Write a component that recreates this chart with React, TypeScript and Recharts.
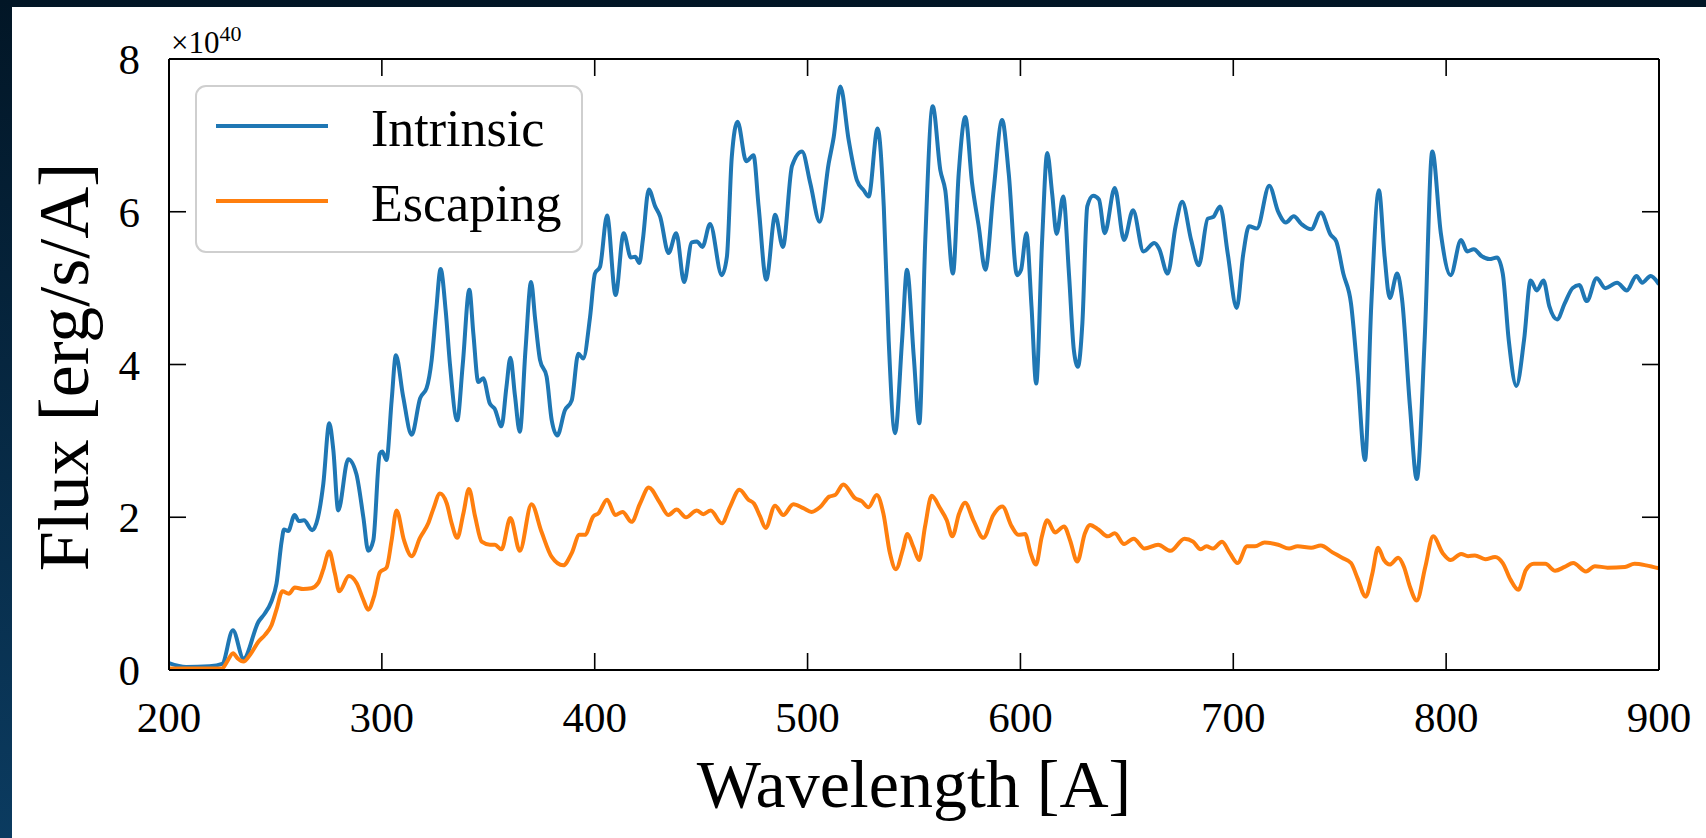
import React from "react";
import { LineChart, Line, XAxis, YAxis, Legend } from "recharts";

// wavelengths [A] and flux [1e40 erg/s/A]
const INTRINSIC_WL = [
  200, 208, 219, 225, 230, 235, 242, 245, 248, 250.5, 253, 254, 256, 259, 261, 263.4, 267.3, 270, 272.5, 275.3,
  277.2, 279.5, 284.2, 288, 291.3, 293.6, 296, 299, 300.2, 302.2, 304.6, 306.6, 310, 314, 318, 321, 323.4, 325.5,
  327.6, 330, 332, 335.4, 338, 341.1, 343, 345.3, 347.6, 350.7, 353, 356.2, 358.5, 360.4, 362.5, 364.8, 367.5,
  370.1, 372, 374.3, 377.4, 379.8, 382.4, 386, 389.2, 392.3, 394.6, 397.8, 400.1, 402.5, 405.8, 409.8, 413.6, 417,
  419, 421, 422.6, 425.4, 428.4, 430.7, 434.7, 438.3, 442, 445.6, 448, 450.6, 454.2, 459.7, 462.1, 464.4, 467.1,
  471.2, 474.6, 477, 480.6, 484.8, 488.4, 492.7, 497.4, 501.3, 505.7, 509.9, 512.3, 515.4, 519.3, 523.2, 526.4,
  528.7, 532.9, 535.8, 538.1, 541.1, 544.4, 546.7, 549.9, 552.5, 555.3, 558.8, 562.4, 564.7, 568.3, 571, 574.1,
  577.3, 580.4, 583.5, 587.4, 591.4, 594.5, 598.4, 600.3, 602.8, 605.2, 607.4, 610.2, 612.6, 614.9, 617, 620.1,
  622.8, 625.1, 627, 629.1, 631.4, 634.2, 636.9, 639.6, 644.3, 648.7, 652.9, 657.8, 662.9, 665.1, 669.2, 672.9,
  676, 680.2, 683.8, 688, 690.5, 693.8, 697.4, 701.6, 704.7, 707.4, 711.1, 716.9, 721.1, 724.7, 728.4, 732, 736.6,
  741.1, 745.7, 748.4, 751.7, 755.3, 758.4, 761.9, 764.8, 768.4, 771.1, 773.5, 777, 779.3, 783, 786.2, 789.9,
  793.5, 797.5, 802.1, 807, 809.9, 813, 816.6, 820.3, 823.9, 826.6, 829.4, 833, 836.6, 839.7, 842.6, 845.7, 848.5,
  852.1, 855.7, 859.4, 862.5, 866.1, 870.7, 874.8, 880.3, 884.9, 889.4, 892.1, 896.1, 900,
];
const INTRINSIC_FLUX = [
  0.09, 0.04, 0.05, 0.08, 0.52, 0.15, 0.63, 0.74, 0.89, 1.13, 1.7, 1.84, 1.82, 2.03, 1.95, 1.96, 1.83, 2.0, 2.44, 3.23,
  2.88, 2.09, 2.76, 2.57, 2.0, 1.56, 1.7, 2.83, 2.86, 2.75, 3.53, 4.12, 3.58, 3.08, 3.56, 3.69, 4.06, 4.7,
  5.25, 4.7, 4.0, 3.27, 4.0, 4.98, 4.4, 3.77, 3.82, 3.49, 3.42, 3.19, 3.7, 4.09, 3.6, 3.12, 4.2,
  5.08, 4.6, 4.06, 3.84, 3.27, 3.07, 3.4, 3.53, 4.14, 4.08, 4.62, 5.19, 5.28, 5.95, 4.91, 5.72, 5.4,
  5.41, 5.33, 5.63, 6.29, 6.07, 5.94, 5.46, 5.72, 5.08, 5.6, 5.61, 5.54, 5.84, 5.17, 5.41, 6.72, 7.18,
  6.66, 6.74, 6.07, 5.11, 5.96, 5.54, 6.6, 6.79, 6.37, 5.87, 6.63, 6.98, 7.64, 6.94, 6.41, 6.28,
  6.2, 7.09, 6.07, 4.32, 3.1, 4.32, 5.24, 4.1, 3.23, 5.63, 7.38, 6.54, 6.28, 5.19, 6.5, 7.24,
  6.37, 5.81, 5.24, 6.28, 7.2, 6.5, 5.17, 5.24, 5.72, 4.76, 3.75, 5.63, 6.77, 6.24, 5.71, 6.2,
  5.19, 4.19, 3.97, 4.54, 6.07, 6.21, 6.16, 5.72, 6.31, 5.63, 6.02, 5.48, 5.59, 5.52, 5.19, 5.81,
  6.13, 5.63, 5.3, 5.91, 5.93, 6.07, 5.45, 4.74, 5.45, 5.81, 5.78, 6.34, 6.0, 5.86, 5.94, 5.84, 5.77,
  5.99, 5.7, 5.61, 5.19, 4.8, 3.88, 2.75, 4.76, 6.28, 5.41, 4.87, 5.19, 4.85, 3.45, 2.5, 4.32,
  6.79, 5.72, 5.17, 5.63, 5.48, 5.51, 5.42, 5.38, 5.4, 5.19, 4.32, 3.72, 4.32, 5.1, 4.97, 5.1, 4.76,
  4.59, 4.8, 5.0, 5.04, 4.83, 5.13, 5.0, 5.07, 4.97, 5.16, 5.07, 5.16, 5.05,
];

const ESCAPING_WL = [
  200, 225, 227.3, 230.1, 232.3, 235, 238.1, 242, 245.1, 248.2, 250.5, 253.3, 256.3, 259.1, 263, 266.9, 270.1,
  272.4, 275.3, 277.9, 280, 284.5, 288.1, 291.3, 293.6, 296.3, 299.1, 302.2, 304.6, 306.9, 310.4, 314, 317.9,
  321.8, 324.2, 327.3, 330.5, 332.8, 335.4, 338.3, 340.9, 343.8, 346.9, 350.8, 353.1, 356.2, 360.4, 364.8, 370.3,
  375, 379.8, 385.2, 389.2, 392.8, 395.4, 399.3, 401.7, 405.8, 409.7, 413.1, 417.3, 421.3, 425.4, 430.4, 434.6,
  438.5, 442.9, 447.9, 451, 454.5, 459.7, 463.6, 468, 472.2, 474.8, 477.7, 480.3, 484.7, 488.6, 493.3, 498, 501.9,
  505.8, 510.2, 512.9, 516.8, 522.3, 525.4, 528.6, 532.5, 535.6, 538.7, 541.5, 544.7, 546.9, 549.7, 552.4, 555.2,
  558.3, 562.2, 565.4, 568, 571.2, 574, 577.9, 582.6, 587.3, 591.5, 595.9, 599, 602.2, 604.8, 607.3, 610, 612.6,
  616.3, 620.5, 623.3, 626.7, 630.3, 632.7, 636.6, 641, 644.3, 648.7, 653.2, 658.3, 664.7, 670.5, 677.1, 681.1,
  684.7, 687.4, 690.5, 694.7, 698.4, 702, 706.5, 710.2, 714.7, 721.1, 726.2, 730.2, 736.6, 741.1, 746.6, 751.1,
  755.3, 758.4, 762.2, 765.3, 768, 770.8, 773.5, 777.5, 780.2, 783, 786.2, 790.2, 793.9, 798.4, 802.1, 807, 810.3,
  813.5, 818.4, 823, 826.6, 830.3, 833.9, 837.5, 841.2, 846.6, 851.2, 855.7, 859.7, 865.7, 869.9, 875.8, 884,
  888.5, 894, 900,
];
const ESCAPING_FLUX = [
  0.02, 0.02, 0.11, 0.22, 0.15, 0.11, 0.2, 0.37, 0.46, 0.59, 0.79, 1.03, 1.0, 1.08, 1.06, 1.07, 1.14,
  1.31, 1.55, 1.27, 1.03, 1.23, 1.14, 0.92, 0.79, 0.96, 1.28, 1.34, 1.7, 2.09, 1.7, 1.49, 1.73,
  1.92, 2.11, 2.31, 2.18, 1.92, 1.73, 2.05, 2.37, 2.01, 1.68, 1.64, 1.64, 1.58, 1.99, 1.56, 2.17,
  1.81, 1.48, 1.37, 1.53, 1.77, 1.77, 2.01, 2.05, 2.23, 2.03, 2.07, 1.94, 2.18, 2.39, 2.2, 2.03,
  2.1, 2.0, 2.09, 2.04, 2.09, 1.92, 2.14, 2.36, 2.23, 2.18, 2.01, 1.86, 2.15, 2.03, 2.17, 2.12, 2.07,
  2.13, 2.27, 2.29, 2.43, 2.25, 2.21, 2.13, 2.29, 2.05, 1.53, 1.32, 1.57, 1.78, 1.61, 1.44, 1.88,
  2.28, 2.12, 1.96, 1.75, 2.05, 2.19, 1.96, 1.73, 2.03, 2.14, 1.88, 1.77, 1.78, 1.53, 1.38, 1.74, 1.96,
  1.8, 1.88, 1.7, 1.42, 1.79, 1.9, 1.84, 1.75, 1.79, 1.65, 1.72, 1.59, 1.64, 1.56, 1.72, 1.68,
  1.58, 1.62, 1.59, 1.68, 1.53, 1.4, 1.62, 1.62, 1.67, 1.64, 1.59, 1.62, 1.6, 1.63, 1.54, 1.47,
  1.4, 1.2, 0.96, 1.26, 1.6, 1.44, 1.38, 1.47, 1.35, 1.09, 0.91, 1.35, 1.75, 1.53, 1.44, 1.52, 1.49,
  1.5, 1.45, 1.48, 1.4, 1.18, 1.05, 1.31, 1.39, 1.39, 1.3, 1.35, 1.4, 1.29, 1.36, 1.34, 1.35,
  1.39, 1.37, 1.33,
];

const X_TICKS = [200, 300, 400, 500, 600, 700, 800, 900];
const Y_TICKS = [0, 2, 4, 6, 8];

const SERIES = [
  { key: "intrinsic", name: "Intrinsic", color: "#1f77b4" },
  { key: "escaping", name: "Escaping", color: "#ff7f0e" },
];

const FONT = '"Liberation Serif", "DejaVu Serif", serif';
const TICK_LEN = 17;
const TICK_FS = 43;

const intrinsicData = INTRINSIC_WL.map((x, i) => ({ x, y: INTRINSIC_FLUX[i] }));
const escapingData = ESCAPING_WL.map((x, i) => ({ x, y: ESCAPING_FLUX[i] }));

const BottomTick = ({ x, y, payload }: any) => (
  <g>
    <line x1={x} y1={y} x2={x} y2={y - TICK_LEN} stroke="#000" strokeWidth={1.6} />
    <text x={x} y={y + 62} textAnchor="middle" fontFamily={FONT} fontSize={TICK_FS} fill="#000">
      {payload.value}
    </text>
  </g>
);

const TopTick = ({ x, y }: any) => (
  <line x1={x} y1={y} x2={x} y2={y + TICK_LEN} stroke="#000" strokeWidth={1.6} />
);

const LeftTick = ({ x, y, payload }: any) => (
  <g>
    <line x1={x} y1={y} x2={x + TICK_LEN} y2={y} stroke="#000" strokeWidth={1.6} />
    <text x={x - 29} y={y + 15} textAnchor="end" fontFamily={FONT} fontSize={TICK_FS} fill="#000">
      {payload.value}
    </text>
  </g>
);

const RightTick = ({ x, y }: any) => (
  <line x1={x} y1={y} x2={x - TICK_LEN} y2={y} stroke="#000" strokeWidth={1.6} />
);

const XLabel = ({ viewBox }: any) => (
  <text
    x={viewBox.x + viewBox.width / 2}
    y={viewBox.y + 137}
    textAnchor="middle"
    fontFamily={FONT}
    fontSize={68}
    fill="#000"
  >
    Wavelength [A]
  </text>
);

const YLabel = ({ viewBox }: any) => {
  const left = viewBox.x + viewBox.width;
  const cx = left - 81;
  const cy = viewBox.y + 308;
  return (
    <g>
      <text
        x={cx}
        y={cy}
        transform={`rotate(-90, ${cx}, ${cy})`}
        textAnchor="middle"
        fontFamily={FONT}
        fontSize={72}
        fill="#000"
      >
        Flux [erg/s/A]
      </text>
      <text x={left + 2} y={viewBox.y - 6} fontFamily={FONT} fontSize={31} fill="#000">
        ×10
        <tspan dy={-12} fontSize={22}>
          40
        </tspan>
      </text>
    </g>
  );
};

const LegendBox = () => (
  <svg width={388} height={168}>
    <rect x={1} y={1} width={386} height={166} rx={10} ry={10} fill="#fff" fillOpacity={0.8} stroke="#cfcfcf" strokeWidth={2} />
    {SERIES.map((s, i) => (
      <g key={s.key}>
        <line x1={21} x2={133} y1={41 + i * 75} y2={41 + i * 75} stroke={s.color} strokeWidth={4} />
        <text x={176} y={61 + i * 75} fontFamily={FONT} fontSize={52} fill="#000">
          {s.name}
        </text>
      </g>
    ))}
  </svg>
);

const spine = { stroke: "#000", strokeWidth: 2 };

export default function App() {
  return (
    <div
      style={{
        position: "absolute",
        left: 0,
        top: 0,
        width: 1706,
        height: 838,
        background: "linear-gradient(180deg, #021626 0%, #0b3b60 100%)",
      }}
    >
      <div style={{ position: "absolute", left: 12, top: 7, width: 1694, height: 831, background: "#fff" }}>
        <LineChart width={1694} height={831} margin={{ top: 51, right: 46, bottom: 167, left: 156 }}>
          <XAxis
            xAxisId="bottom"
            dataKey="x"
            type="number"
            domain={[200, 900]}
            ticks={X_TICKS}
            allowDataOverflow
            height={1}
            tickSize={0}
            tickMargin={0}
            tickLine={false}
            tick={BottomTick}
            axisLine={spine}
            label={XLabel}
          />
          <XAxis
            xAxisId="top"
            orientation="top"
            dataKey="x"
            type="number"
            domain={[200, 900]}
            ticks={X_TICKS}
            allowDataOverflow
            height={1}
            tickSize={0}
            tickMargin={0}
            tickLine={false}
            tick={TopTick}
            axisLine={spine}
          />
          <YAxis
            yAxisId="left"
            type="number"
            domain={[0, 8]}
            ticks={Y_TICKS}
            allowDataOverflow
            width={1}
            tickSize={0}
            tickMargin={0}
            tickLine={false}
            tick={LeftTick}
            axisLine={spine}
            label={YLabel}
          />
          <YAxis
            yAxisId="right"
            orientation="right"
            type="number"
            domain={[0, 8]}
            ticks={Y_TICKS}
            allowDataOverflow
            width={1}
            tickSize={0}
            tickMargin={0}
            tickLine={false}
            tick={RightTick}
            axisLine={spine}
          />
          <Line
            xAxisId="bottom"
            yAxisId="left"
            data={intrinsicData}
            dataKey="y"
            name={SERIES[0].name}
            type="monotone"
            stroke={SERIES[0].color}
            strokeWidth={4}
            dot={false}
            activeDot={false}
            isAnimationActive={false}
          />
          <Line
            xAxisId="bottom"
            yAxisId="left"
            data={escapingData}
            dataKey="y"
            name={SERIES[1].name}
            type="monotone"
            stroke={SERIES[1].color}
            strokeWidth={4}
            dot={false}
            activeDot={false}
            isAnimationActive={false}
          />
          <Legend
            layout="horizontal"
            verticalAlign="middle"
            align="center"
            content={LegendBox}
            wrapperStyle={{ left: 183, top: 78, width: 388, height: 168 }}
          />
        </LineChart>
      </div>
    </div>
  );
}
